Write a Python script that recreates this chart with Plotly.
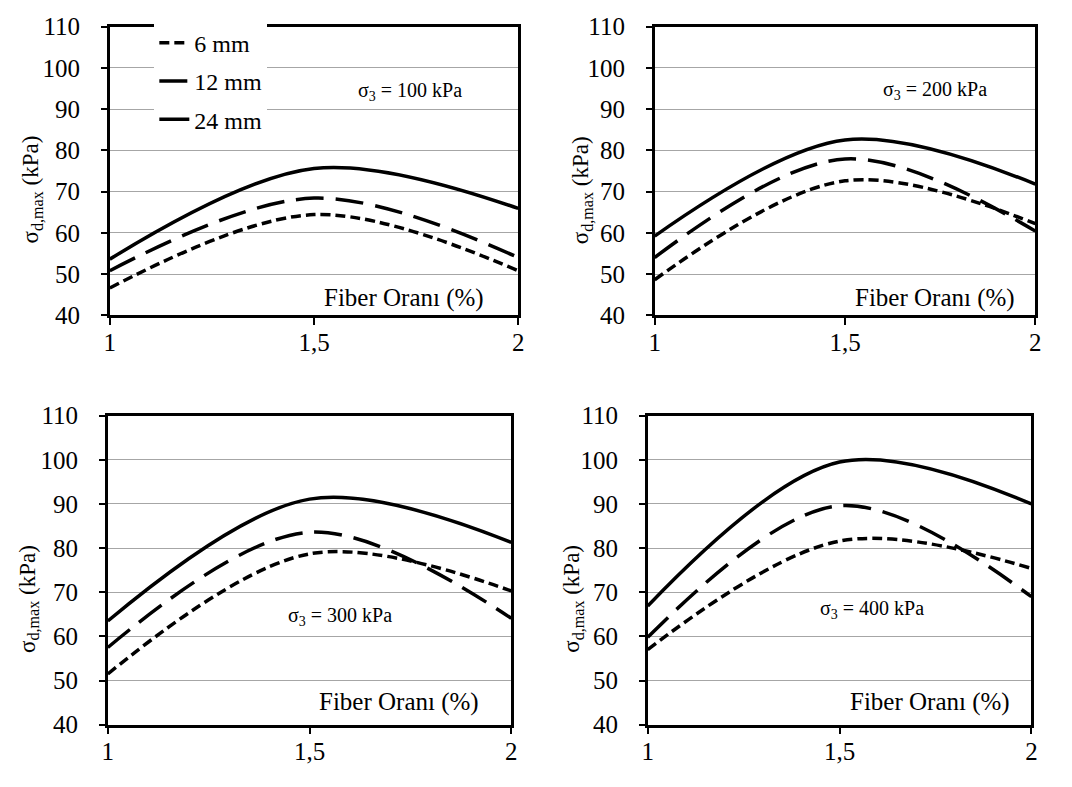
import plotly.graph_objects as go

fiber = [1, 1.5, 2]
x_ticks = [1, 1.5, 2]
x_ticklabels = ["1", "1,5", "2"]
y_ticks = [40, 50, 60, 70, 80, 90, 100, 110]

series_names = ["6 mm", "12 mm", "24 mm"]

p100_6 = [46.6, 64.4, 50.8]
p100_12 = [50.8, 68.4, 54.0]
p100_24 = [53.6, 75.6, 65.9]

p200_6 = [48.6, 72.6, 62.2]
p200_12 = [54.0, 77.9, 60.4]
p200_24 = [59.2, 82.5, 71.8]

p300_6 = [51.5, 78.7, 70.3]
p300_12 = [57.5, 83.6, 64.1]
p300_24 = [63.5, 91.1, 81.3]

p400_6 = [57.0, 81.6, 75.4]
p400_12 = [59.8, 89.6, 69.0]
p400_24 = [66.9, 99.5, 90.0]

panel_labels = ["σ<sub>3</sub> = 100 kPa", "σ<sub>3</sub> = 200 kPa",
                "σ<sub>3</sub> = 300 kPa", "σ<sub>3</sub> = 400 kPa"]
x_title = "Fiber Oranı (%)"
y_title = "σ<sub>d,max</sub> (kPa)"

panels = [
    [p100_6, p100_12, p100_24],
    [p200_6, p200_12, p200_24],
    [p300_6, p300_12, p300_24],
    [p400_6, p400_12, p400_24],
]

W, H = 1072, 787
# pixel boxes: (left, right, top, bottom)
boxes = [(105, 518, 14, 313), (656, 1041, 14, 313),
         (103, 511, 417, 737), (649, 1037, 417, 737)]
dashes = ["10px,5px", "28px,12px", "solid"]
FONT = "Liberation Serif"

fig = go.Figure()
for i, (series, box) in enumerate(zip(panels, boxes)):
    ax = "" if i == 0 else str(i + 1)
    for j, vals in enumerate(series):
        fig.add_trace(go.Scatter(
            x=fiber, y=vals, mode="lines",
            line=dict(color="black", width=3.5, dash=dashes[j], shape="spline", smoothing=1),
            name=series_names[j], legendgroup=series_names[j],
            showlegend=(i == 0), xaxis="x" + ax, yaxis="y" + ax,
        ))
    l, r, t, b = box
    fig.layout["xaxis" + ax] = dict(
        domain=[l / W, r / W], anchor="y" + ax, range=[1, 2],
        tickvals=x_ticks, ticktext=x_ticklabels, ticks="outside", ticklen=7,
        tickwidth=1.5, tickcolor="black", ticklabelstandoff=-4,
        showline=True, linecolor="black", linewidth=2.5, mirror=True,
        showgrid=False, zeroline=False,
        tickfont=dict(family=FONT, size=25, color="black"),
    )
    fig.layout["yaxis" + ax] = dict(
        domain=[1 - b / H, 1 - t / H], anchor="x" + ax, range=[40, 110],
        tickvals=y_ticks, ticks="outside", ticklen=6, tickwidth=1.5, tickcolor="black",
        ticklabelstandoff=16,
        showline=True, linecolor="black", linewidth=2.5, mirror=True,
        showgrid=True, gridcolor="#a6a6a6", gridwidth=1, zeroline=False,
        tickfont=dict(family=FONT, size=25, color="black"),
    )

ann = []
label_pos = [(409, 81), (940, 80), (338, 625), (876, 618)]
xt_pos = [(485, 295), (1022, 295), (480, 713), (1017, 713)]
yt_pos = [(26, 183), (582, 183), (23, 607), (574, 607)]
for k in range(4):
    ann.append(dict(x=label_pos[k][0] / W, y=1 - label_pos[k][1] / H, xref="paper", yref="paper",
                    text=panel_labels[k], showarrow=False, xanchor="center", yanchor="middle",
                    font=dict(family=FONT, size=20, color="black")))
    ann.append(dict(x=xt_pos[k][0] / W, y=1 - xt_pos[k][1] / H, xref="paper", yref="paper",
                    text=x_title, showarrow=False, xanchor="right", yanchor="middle",
                    font=dict(family=FONT, size=25, color="black")))
    ann.append(dict(x=yt_pos[k][0] / W, y=1 - yt_pos[k][1] / H, xref="paper", yref="paper",
                    text=y_title, showarrow=False, xanchor="center", yanchor="middle",
                    textangle=-90, font=dict(family=FONT, size=23, color="black")))

fig.update_layout(
    width=W, height=H, margin=dict(l=0, r=0, t=0, b=0),
    paper_bgcolor="white", plot_bgcolor="white",
    font=dict(family=FONT, color="black"),
    annotations=ann,
    legend=dict(x=150 / W, y=1 - 8 / H, xanchor="left", yanchor="top",
                bgcolor="white", font=dict(family=FONT, size=24, color="black"),
                traceorder="grouped", tracegroupgap=4, itemwidth=30),
    showlegend=True,
)

fig.write_html("out.html")
